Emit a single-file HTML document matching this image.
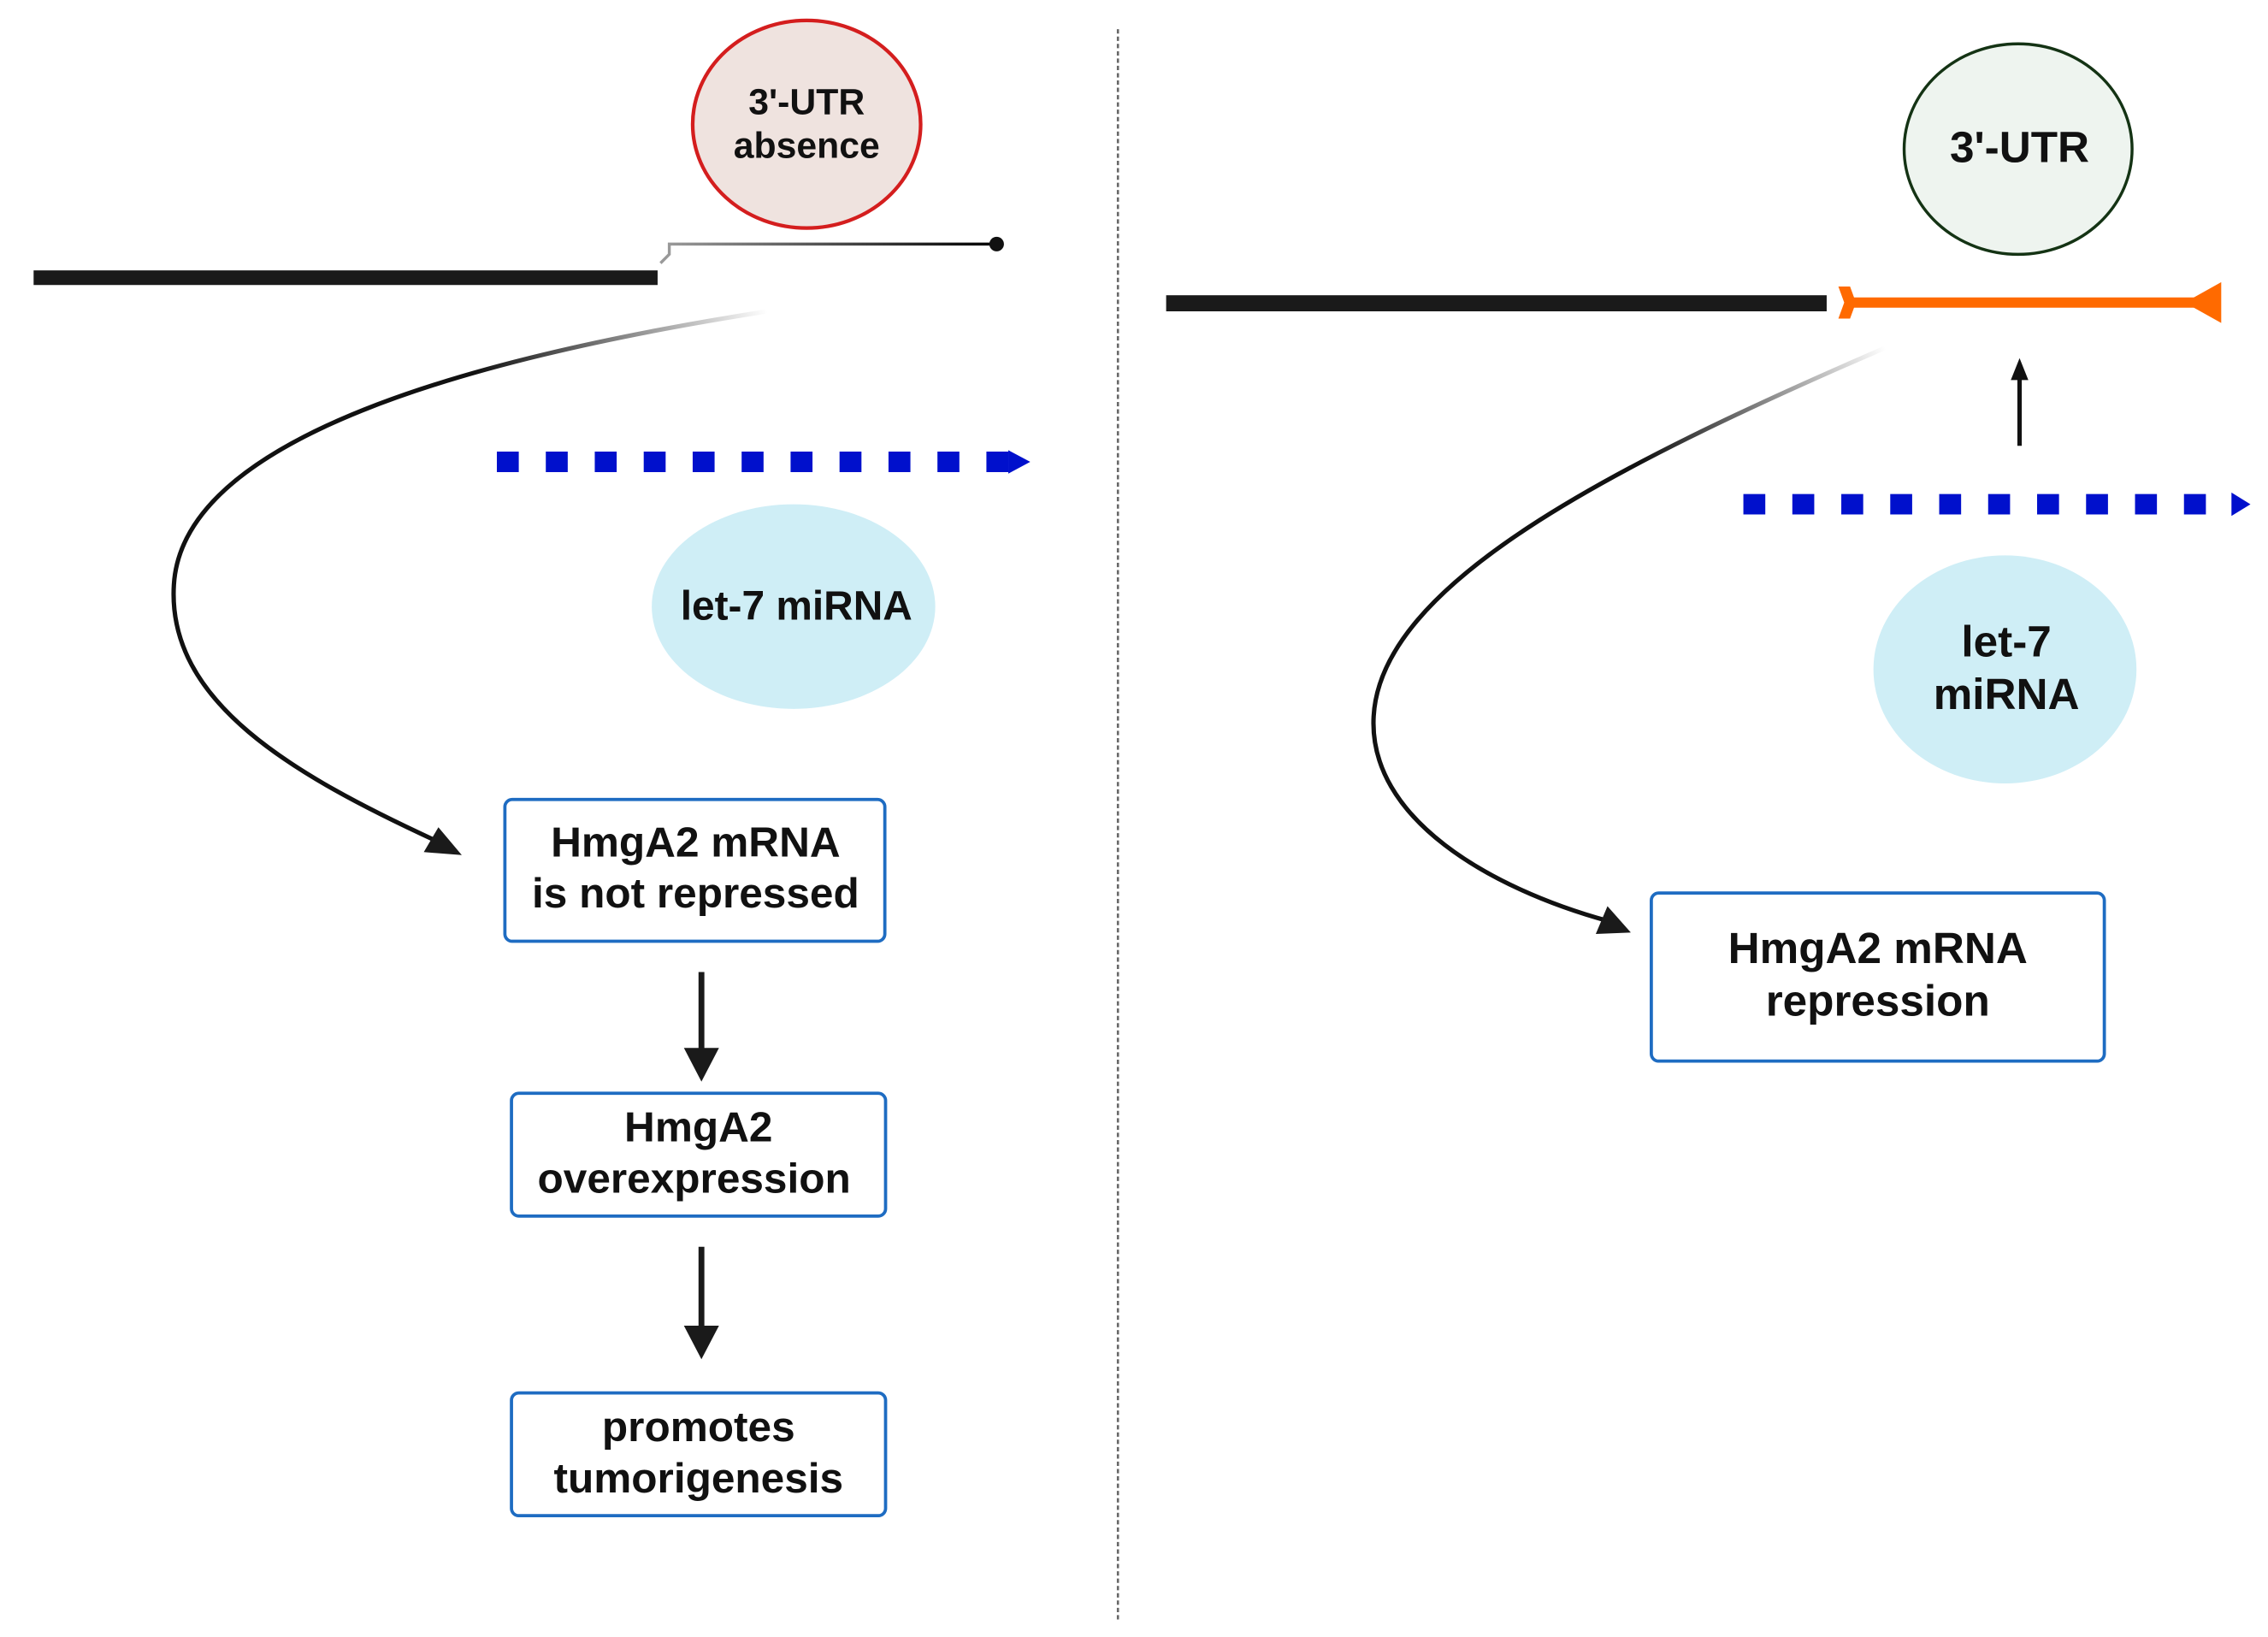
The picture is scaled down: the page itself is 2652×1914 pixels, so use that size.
<!DOCTYPE html>
<html><head><meta charset="utf-8"><style>
html,body{margin:0;padding:0;background:#fff;}
svg{display:block;}
text{font-family:"Liberation Sans",sans-serif;font-weight:bold;fill:#111;text-anchor:middle;}
</style></head><body>
<svg width="2652" height="1914" viewBox="0 0 1552 1120" preserveAspectRatio="none" xmlns="http://www.w3.org/2000/svg">
<defs>
<linearGradient id="g1" gradientUnits="userSpaceOnUse" x1="525" y1="213" x2="330" y2="275">
<stop offset="0" stop-color="#000" stop-opacity="0"/><stop offset="1" stop-color="#111"/></linearGradient>
<linearGradient id="g2" gradientUnits="userSpaceOnUse" x1="1290" y1="238" x2="1130" y2="330">
<stop offset="0" stop-color="#000" stop-opacity="0"/><stop offset="1" stop-color="#111"/></linearGradient>
<linearGradient id="g3" gradientUnits="userSpaceOnUse" x1="458" y1="167" x2="682" y2="167">
<stop offset="0" stop-color="#999"/><stop offset="1" stop-color="#000"/></linearGradient>
</defs>
<line x1="765" y1="20" x2="765" y2="1110" stroke="#666" stroke-width="1.5" stroke-dasharray="3 2"/>

<ellipse cx="552" cy="85" rx="78" ry="71" fill="#efe3df" stroke="#d41e1e" stroke-width="2.5"/>
<text x="552" y="78" font-size="25">3'-UTR</text>
<text x="552" y="108" font-size="25">absence</text>
<rect x="23" y="185" width="427" height="10" fill="#1a1a1a"/>
<path d="M452,180 L458,174 L458,167 L682,167" fill="none" stroke="url(#g3)" stroke-width="2"/>
<circle cx="682" cy="167" r="5" fill="#111"/>
<path d="M525,213 C320,245 125,300 119,400 C114,480 200,530 300,576" fill="none" stroke="url(#g1)" stroke-width="3"/>
<polygon points="316,585 290,583 300,566" fill="#1a1a1a"/>
<line x1="340" y1="316" x2="690" y2="316" stroke="#0010cc" stroke-width="14" stroke-dasharray="15 18.5"/>
<polygon points="690,308 705,316 690,324" fill="#0010cc"/>
<ellipse cx="543" cy="415" rx="97" ry="70" fill="#cfeef6"/>
<text x="545" y="424" font-size="28">let-7 miRNA</text>

<rect x="345.5" y="547" width="260" height="97" rx="5" fill="#fff" stroke="#1e6cc2" stroke-width="2.2"/>
<text x="476" y="586" font-size="29">HmgA2 mRNA</text>
<text x="476" y="621" font-size="29">is not repressed</text>
<line x1="480" y1="665" x2="480" y2="720" stroke="#1a1a1a" stroke-width="4"/>
<polygon points="468,717 492,717 480,740" fill="#1a1a1a"/>
<rect x="350" y="748" width="256" height="84" rx="5" fill="#fff" stroke="#1e6cc2" stroke-width="2.2"/>
<text x="478" y="781" font-size="29">HmgA2</text>
<text x="475" y="816" font-size="29">overexpression</text>
<line x1="480" y1="853" x2="480" y2="910" stroke="#1a1a1a" stroke-width="4"/>
<polygon points="468,907 492,907 480,930" fill="#1a1a1a"/>
<rect x="350" y="953" width="256" height="84" rx="5" fill="#fff" stroke="#1e6cc2" stroke-width="2.2"/>
<text x="478" y="986" font-size="29">promotes</text>
<text x="478" y="1021" font-size="29">tumorigenesis</text>

<ellipse cx="1381" cy="102" rx="78" ry="72" fill="#eef4ef" stroke="#143314" stroke-width="2"/>
<text x="1382" y="111" font-size="30">3'-UTR</text>
<rect x="798" y="202" width="452" height="11" fill="#1a1a1a"/>
<line x1="1265" y1="207" x2="1505" y2="207" stroke="#ff6a00" stroke-width="7"/>
<polygon points="1258,196 1266,196 1270,207 1266,218 1258,218 1262,207" fill="#ff6a00"/>
<polygon points="1520,193 1520,221 1495,207" fill="#ff6a00"/>
<line x1="1382" y1="305" x2="1382" y2="258" stroke="#111" stroke-width="3"/>
<polygon points="1376,260 1388,260 1382,245" fill="#111"/>
<path d="M1290,238 C1100,320 945,400 940,490 C936,560 1020,608 1100,630" fill="none" stroke="url(#g2)" stroke-width="3"/>
<polygon points="1116,638 1092,639 1100,620" fill="#1a1a1a"/>
<line x1="1193" y1="345" x2="1525" y2="345" stroke="#0010cc" stroke-width="14" stroke-dasharray="15 18.5"/>
<polygon points="1527,337 1540,345 1527,353" fill="#0010cc"/>
<ellipse cx="1372" cy="458" rx="90" ry="78" fill="#cfeef6"/>
<text x="1373" y="449" font-size="30">let-7</text>
<text x="1373" y="485" font-size="30">miRNA</text>
<rect x="1130" y="611" width="310" height="115" rx="5" fill="#fff" stroke="#1e6cc2" stroke-width="2.2"/>
<text x="1285" y="659" font-size="30">HmgA2 mRNA</text>
<text x="1285" y="695" font-size="30">repression</text>
</svg>
</body></html>
